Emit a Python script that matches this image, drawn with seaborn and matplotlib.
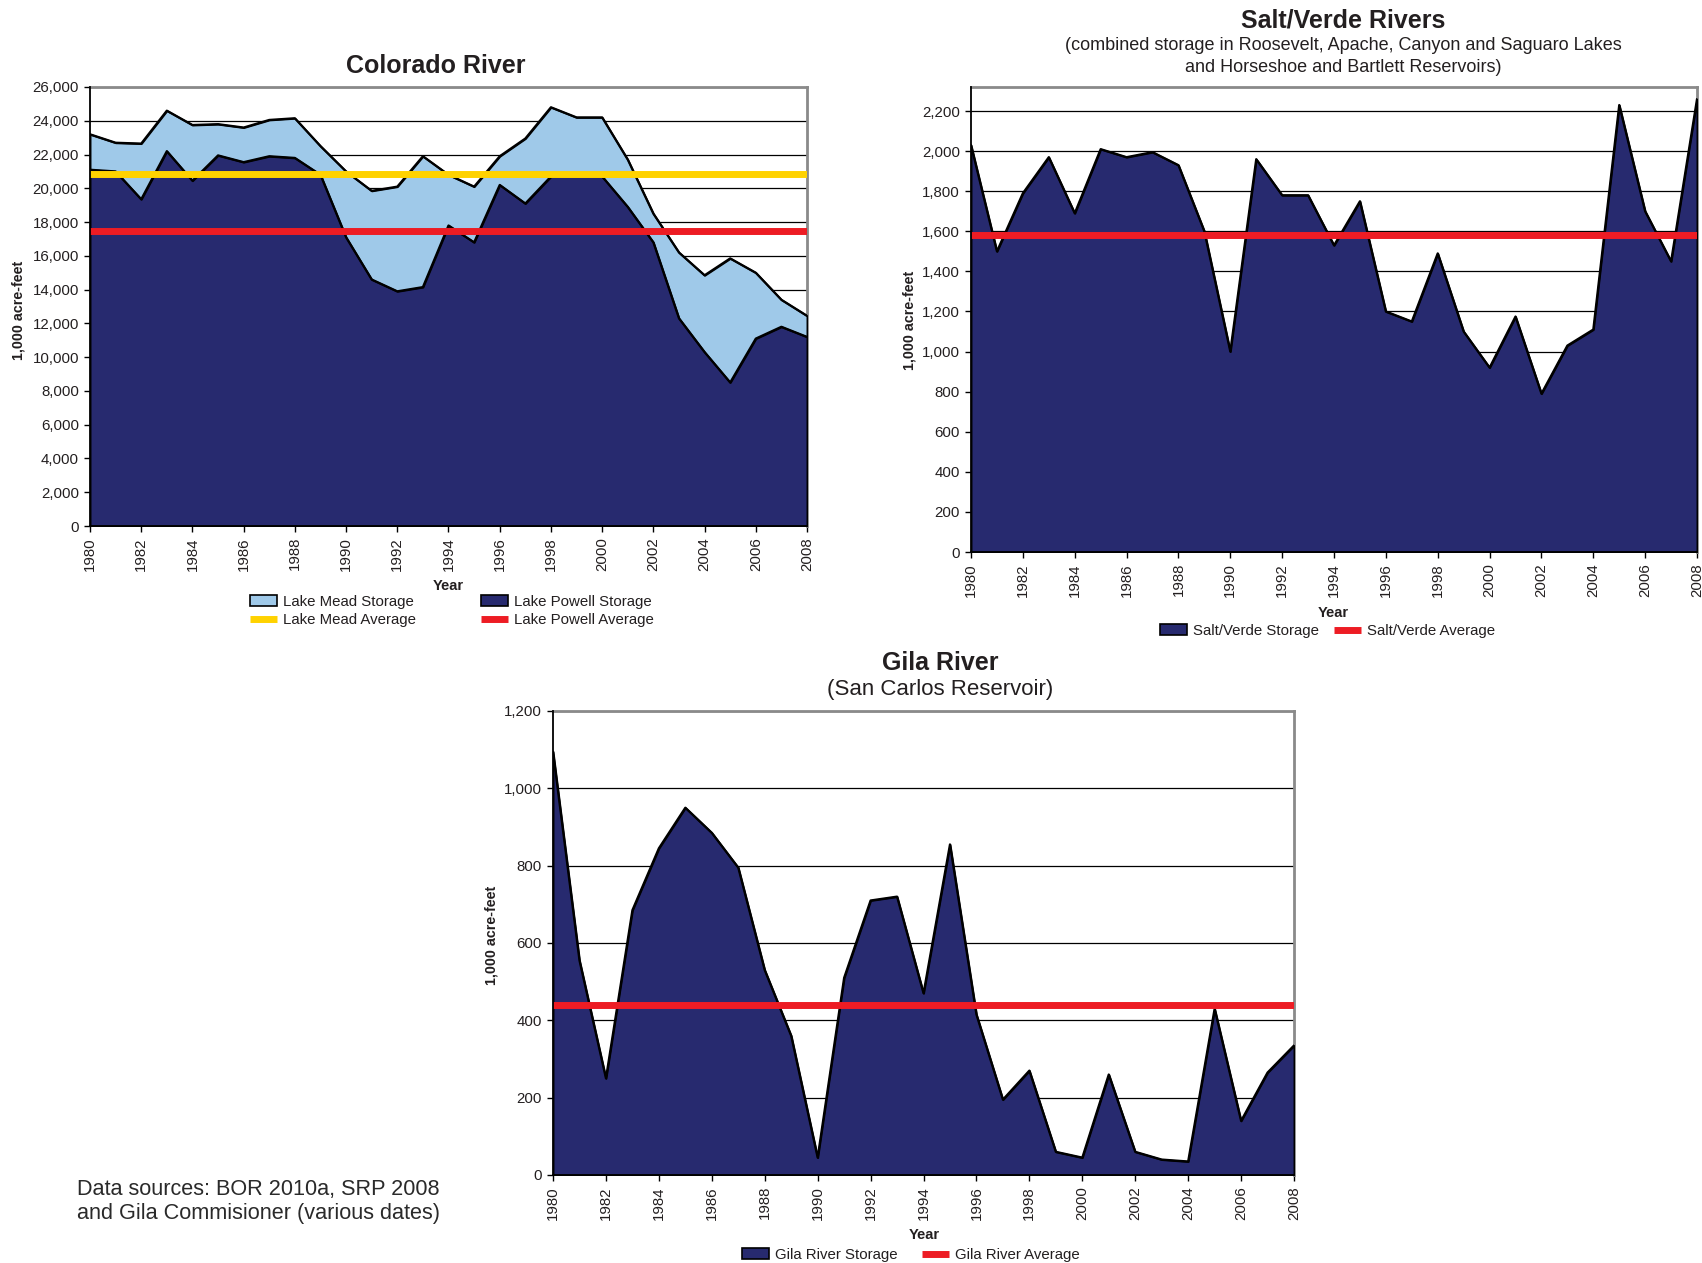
import matplotlib
matplotlib.use("Agg")
import matplotlib.pyplot as plt
import seaborn as sns
import pandas as pd
from matplotlib.patches import Patch
from matplotlib.lines import Line2D

# ---------------- data ----------------
years = list(range(1980, 2009))

mead_storage = [23200, 22700, 22650, 24600, 23750, 23800, 23600, 24050, 24150, 22500,
                21000, 19850, 20100, 21900, 20800, 20100, 21900, 22950, 24800, 24200,
                24200, 21700, 18500, 16200, 14850, 15850, 15000, 13400, 12450]
powell_storage = [21100, 21000, 19350, 22200, 20450, 21950, 21550, 21900, 21800, 20800,
                  17100, 14600, 13900, 14150, 17800, 16800, 20200, 19100, 20700, 20800,
                  20700, 18900, 16800, 12300, 10300, 8500, 11100, 11800, 11200]
mead_average = 20850
powell_average = 17500

saltverde_storage = [2030, 1500, 1790, 1970, 1690, 2010, 1970, 1995, 1930, 1600,
                     1000, 1960, 1780, 1780, 1530, 1750, 1200, 1150, 1490, 1100,
                     920, 1175, 790, 1030, 1110, 2230, 1700, 1450, 2260]
saltverde_average = 1580

gila_storage = [1095, 555, 250, 685, 845, 950, 885, 795, 530, 360,
                45, 510, 710, 720, 470, 855, 415, 195, 270, 60,
                45, 260, 60, 40, 35, 430, 140, 265, 335]
gila_average = 440

colorado_yticks = list(range(0, 26001, 2000))
saltverde_yticks = list(range(0, 2201, 200))
gila_yticks = list(range(0, 1201, 200))
xtick_years = list(range(1980, 2009, 2))

# ---------------- style ----------------
NAVY = "#272a6f"
LIGHT = "#9fc9e9"
YELLOW = "#ffd200"
RED = "#ed1c24"
TXT = "#231f20"

sns.set_theme(style="white")
plt.rcParams["font.family"] = ["Liberation Sans", "DejaVu Sans"]

W, H = 1702, 1263
fig = plt.figure(figsize=(W / 100, H / 100), dpi=100)


def rect(l, t, r, b):
    return [l / W, 1 - b / H, (r - l) / W, (b - t) / H]


def fx(x):
    return x / W


def fy(y):
    return 1 - y / H


def style_axes(ax, ymax, yticks):
    ax.set_xlim(1980, 2008)
    ax.set_ylim(0, ymax)
    ax.set_xticks(xtick_years)
    ax.set_xticklabels([str(y) for y in xtick_years], rotation=90)
    ax.set_yticks(yticks)
    ax.set_yticklabels([f"{v:,}" for v in yticks])
    ax.grid(False)
    ax.yaxis.grid(True, color="black", lw=0.9)
    ax.set_axisbelow(True)
    for s in ["left", "bottom"]:
        ax.spines[s].set_color("black")
        ax.spines[s].set_linewidth(1.3)
        ax.spines[s].set_zorder(5)
    for s in ["top", "right"]:
        ax.spines[s].set_color("#8a8a8a")
        ax.spines[s].set_linewidth(2.0)
        ax.spines[s].set_zorder(0.8)
    ax.tick_params(axis="both", direction="out", length=4, width=1, color="black",
                   labelsize=10.8, labelcolor=TXT, pad=4, bottom=True, left=True)
    ax.set_xlabel("")
    ax.set_ylabel("")


def area(ax, x, y, color):
    ax.fill_between(x, 0, y, facecolor=color, edgecolor="black", linewidth=1.4, zorder=2)
    sns.lineplot(x=x, y=y, ax=ax, color="black", lw=1.6, zorder=2.5, legend=False)


def legend(ax, handles, labels, ncol, x_left, y_top, colspace):
    leg = ax.legend(handles, labels, ncol=ncol, loc="upper left",
                    bbox_to_anchor=(fx(x_left), fy(y_top)), bbox_transform=fig.transFigure,
                    frameon=False, fontsize=10.8, borderpad=0, borderaxespad=0,
                    handlelength=1.8, handleheight=0.75, handletextpad=0.4,
                    columnspacing=colspace, labelspacing=0.3)
    for t in leg.get_texts():
        t.set_color(TXT)
    return leg


def avg_handle(color):
    return Line2D([], [], color=color, lw=5, solid_capstyle="butt")


# ---------------- Colorado River ----------------
ax1 = fig.add_axes(rect(90, 87, 807, 526))
style_axes(ax1, 26000, colorado_yticks)
area(ax1, years, mead_storage, LIGHT)
area(ax1, years, powell_storage, NAVY)
ax1.axhline(mead_average, color=YELLOW, lw=5, zorder=4)
ax1.axhline(powell_average, color=RED, lw=5, zorder=4)
fig.text(fx(436), fy(66), "Colorado River", ha="center", va="center",
         fontsize=18, fontweight="bold", color=TXT)
fig.text(fx(19), fy(310), "1,000 acre-feet", rotation=90, ha="center", va="center",
         fontsize=10.3, fontweight="bold", color=TXT)
fig.text(fx(448), fy(586), "Year", ha="center", va="center",
         fontsize=10.5, fontweight="bold", color=TXT)
h_mead = Patch(facecolor=LIGHT, edgecolor="black", linewidth=1.2)
h_powell = Patch(facecolor=NAVY, edgecolor="black", linewidth=1.2)
legend(ax1, [h_mead, avg_handle(YELLOW), h_powell, avg_handle(RED)],
       ["Lake Mead Storage", "Lake Mead Average", "Lake Powell Storage", "Lake Powell Average"],
       2, 250, 595, 4.3)

# ---------------- Salt/Verde Rivers ----------------
ax2 = fig.add_axes(rect(971, 87, 1697, 552))
style_axes(ax2, 2320, saltverde_yticks)
area(ax2, years, saltverde_storage, NAVY)
ax2.axhline(saltverde_average, color=RED, lw=5, zorder=4)
fig.text(fx(1343), fy(21), "Salt/Verde Rivers", ha="center", va="center",
         fontsize=18, fontweight="bold", color=TXT)
fig.text(fx(1343), fy(46), "(combined storage in Roosevelt, Apache, Canyon and Saguaro Lakes",
         ha="center", va="center", fontsize=13, color=TXT)
fig.text(fx(1343), fy(67), "and Horseshoe and Bartlett Reservoirs)",
         ha="center", va="center", fontsize=13, color=TXT)
fig.text(fx(909), fy(320), "1,000 acre-feet", rotation=90, ha="center", va="center",
         fontsize=10.3, fontweight="bold", color=TXT)
fig.text(fx(1333), fy(613), "Year", ha="center", va="center",
         fontsize=10.5, fontweight="bold", color=TXT)
h_sv = Patch(facecolor=NAVY, edgecolor="black", linewidth=1.2)
legend(ax2, [h_sv, avg_handle(RED)], ["Salt/Verde Storage", "Salt/Verde Average"],
       2, 1160, 624, 1.0)

# ---------------- Gila River ----------------
ax3 = fig.add_axes(rect(553, 711, 1294, 1175))
style_axes(ax3, 1200, gila_yticks)
area(ax3, years, gila_storage, NAVY)
ax3.axhline(gila_average, color=RED, lw=5, zorder=4)
fig.text(fx(940), fy(663), "Gila River", ha="center", va="center",
         fontsize=18, fontweight="bold", color=TXT)
fig.text(fx(940), fy(690), "(San Carlos Reservoir)", ha="center", va="center",
         fontsize=16, color=TXT)
fig.text(fx(491), fy(935), "1,000 acre-feet", rotation=90, ha="center", va="center",
         fontsize=10.3, fontweight="bold", color=TXT)
fig.text(fx(924), fy(1235), "Year", ha="center", va="center",
         fontsize=10.5, fontweight="bold", color=TXT)
h_g = Patch(facecolor=NAVY, edgecolor="black", linewidth=1.2)
legend(ax3, [h_g, avg_handle(RED)], ["Gila River Storage", "Gila River Average"],
       2, 742, 1248, 1.65)

# ---------------- source note ----------------
fig.text(fx(77), fy(1189), "Data sources: BOR 2010a, SRP 2008", ha="left", va="center",
         fontsize=15.6, color="#2a2a2a")
fig.text(fx(77), fy(1214), "and Gila Commisioner (various dates)", ha="left", va="center",
         fontsize=15.6, color="#2a2a2a")

fig.savefig("out.png", dpi=100, facecolor="white")
